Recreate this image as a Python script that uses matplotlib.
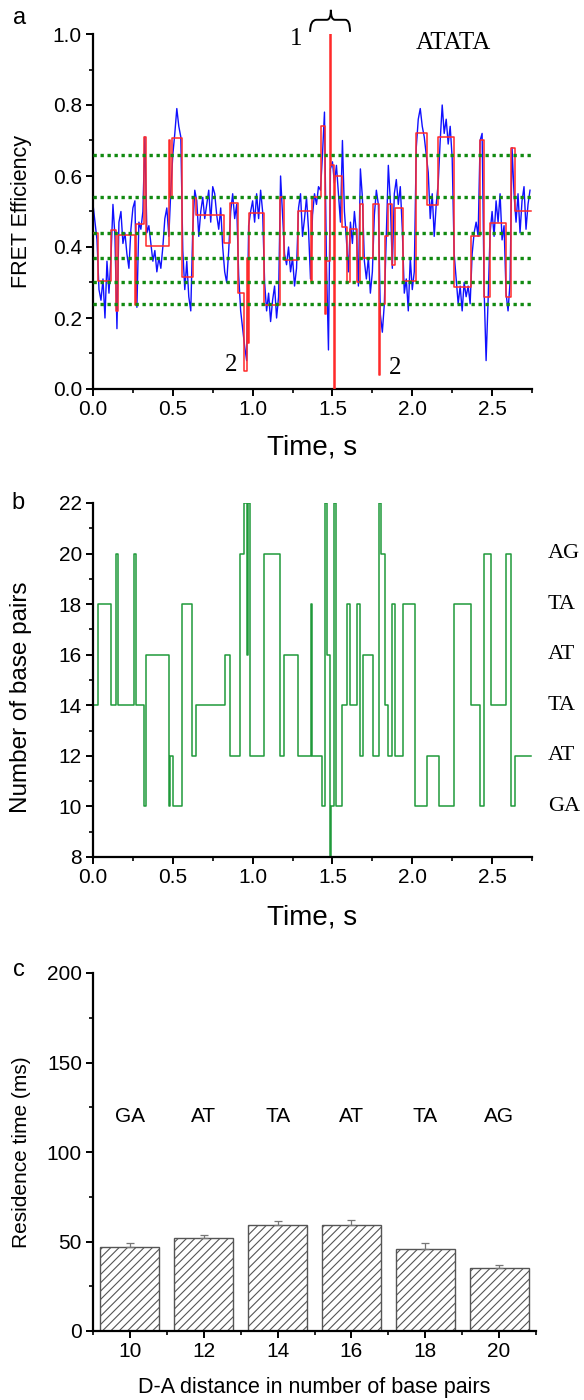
import numpy as np
import matplotlib
matplotlib.use("Agg")
import matplotlib.pyplot as plt
from matplotlib.path import Path
from matplotlib.patches import PathPatch
from matplotlib.ticker import MultipleLocator, FormatStrFormatter
from matplotlib.transforms import blended_transform_factory

plt.rcParams['font.family'] = ['Liberation Sans', 'DejaVu Sans']
plt.rcParams['hatch.linewidth'] = 0.8

# ---------------- Panel a data ----------------
frame_dt = 0.0125
fret_blue = [
    0.52, 0.47, 0.42, 0.28, 0.25, 0.31, 0.20, 0.36, 0.27, 0.37,
    0.52, 0.43, 0.17, 0.47, 0.50, 0.41, 0.44, 0.38, 0.34, 0.45,
    0.51, 0.53, 0.23, 0.47, 0.45, 0.50, 0.71, 0.44, 0.46, 0.41,
    0.36, 0.39, 0.33, 0.37, 0.34, 0.40, 0.48, 0.51, 0.43, 0.56,
    0.66, 0.72, 0.79, 0.74, 0.71, 0.39, 0.28, 0.36, 0.26, 0.22,
    0.45, 0.56, 0.53, 0.43, 0.50, 0.54, 0.48, 0.52, 0.56, 0.47,
    0.57, 0.55, 0.49, 0.45, 0.51, 0.40, 0.33, 0.30, 0.39, 0.50,
    0.55, 0.48, 0.52, 0.32, 0.22, 0.17, 0.12, 0.08, 0.46, 0.50,
    0.53, 0.47, 0.55, 0.48, 0.56, 0.50, 0.30, 0.22, 0.27, 0.19,
    0.25, 0.29, 0.20, 0.26, 0.60, 0.49, 0.38, 0.35, 0.40, 0.33,
    0.37, 0.29, 0.34, 0.51, 0.55, 0.43, 0.48, 0.54, 0.45, 0.31,
    0.49, 0.55, 0.52, 0.57, 0.56, 0.66, 0.78, 0.35, 0.11, 0.62,
    0.64, 0.58, 0.63, 0.55, 0.47, 0.70, 0.50, 0.42, 0.33, 0.47,
    0.41, 0.50, 0.44, 0.29, 0.62, 0.54, 0.36, 0.31, 0.37, 0.27,
    0.33, 0.49, 0.56, 0.52, 0.21, 0.16, 0.24, 0.44, 0.63, 0.53,
    0.34, 0.55, 0.59, 0.52, 0.57, 0.45, 0.27, 0.31, 0.22, 0.37,
    0.28, 0.33, 0.68, 0.76, 0.79, 0.74, 0.71, 0.66, 0.61, 0.48,
    0.55, 0.43, 0.52, 0.58, 0.70, 0.80, 0.72, 0.76, 0.69, 0.74,
    0.65, 0.38, 0.31, 0.24, 0.29, 0.22, 0.30, 0.26, 0.29, 0.24,
    0.38, 0.44, 0.47, 0.43, 0.70, 0.72, 0.28, 0.08, 0.25, 0.44,
    0.50, 0.43, 0.53, 0.47, 0.55, 0.42, 0.46, 0.27, 0.22, 0.30,
    0.68, 0.55, 0.47, 0.55, 0.44, 0.53, 0.57, 0.45, 0.52, 0.56,
]
blue_time = np.arange(len(fret_blue)) * frame_dt

red_time = [0.000, 0.034, 0.114, 0.147, 0.156, 0.263, 0.270, 0.320, 0.332, 0.477,
            0.485, 0.492, 0.555, 0.624, 0.646, 0.819, 0.857, 0.910, 0.945, 0.962,
            0.968, 0.975, 1.074, 1.170, 1.194, 1.285, 1.363, 1.372, 1.427, 1.452,
            1.462, 1.484, 1.490, 1.508, 1.516, 1.557, 1.592, 1.607, 1.652, 1.670,
            1.690, 1.757, 1.791, 1.800, 1.827, 1.850, 1.873, 1.890, 1.939, 2.023,
            2.090, 2.164, 2.259, 2.367, 2.426, 2.450, 2.490, 2.584, 2.620, 2.642, 2.745]
red_fret = [0.44, 0.305, 0.448, 0.22, 0.434, 0.237, 0.465, 0.71, 0.403, 0.70,
            0.54, 0.706, 0.316, 0.537, 0.49, 0.41, 0.525, 0.27, 0.05, 0.37,
            0.13, 0.495, 0.237, 0.54, 0.363, 0.50, 0.30, 0.54, 0.74, 0.21,
            0.36, 1.00, 0.63, 0.00, 0.60, 0.457, 0.30, 0.45, 0.30, 0.52,
            0.37, 0.52, 0.04, 0.24, 0.43, 0.52, 0.35, 0.509, 0.305, 0.72,
            0.518, 0.71, 0.288, 0.43, 0.70, 0.26, 0.468, 0.26, 0.68, 0.50, 0.50]

level_lines = [0.66, 0.54, 0.44, 0.37, 0.30, 0.24]

# ---------------- Panel b data ----------------
bp_time = [0.000, 0.034, 0.114, 0.147, 0.156, 0.258, 0.270, 0.320, 0.332, 0.477,
           0.481, 0.500, 0.555, 0.622, 0.646, 0.825, 0.858, 0.922, 0.945, 0.963,
           0.970, 0.985, 1.074, 1.170, 1.194, 1.285, 1.363, 1.371, 1.432, 1.452,
           1.464, 1.484, 1.494, 1.508, 1.520, 1.557, 1.592, 1.607, 1.652, 1.670,
           1.690, 1.757, 1.791, 1.801, 1.827, 1.850, 1.873, 1.890, 1.939, 2.017,
           2.095, 2.170, 2.263, 2.369, 2.424, 2.450, 2.494, 2.585, 2.620, 2.642, 2.745]
bp_num = [14, 18, 14, 20, 14, 20, 14, 10, 16, 10,
          12, 10, 18, 12, 14, 16, 12, 20, 22, 16,
          22, 12, 20, 12, 16, 12, 18, 12, 10, 22,
          16, 8, 10, 22, 10, 14, 18, 14, 18, 12,
          16, 12, 22, 20, 14, 12, 18, 12, 18, 10,
          12, 10, 18, 14, 10, 20, 14, 20, 10, 12, 12]
bp_levels = [20, 18, 16, 14, 12, 10]
bp_names = ['AG', 'TA', 'AT', 'TA', 'AT', 'GA']

# ---------------- Panel c data ----------------
distance_bp = [10, 12, 14, 16, 18, 20]
residence_ms = [47, 52, 59, 59, 46, 35]
residence_err = [2.3, 1.8, 2.3, 3.0, 3.0, 2.1]
pair_names = ['GA', 'AT', 'TA', 'AT', 'TA', 'AG']

W, H = 584, 1400
fig = plt.figure(figsize=(W / 100, H / 100), dpi=100)

def px_axes(left, top, right, bottom):
    return fig.add_axes([left / W, 1 - bottom / H, (right - left) / W, (bottom - top) / H])

TICK_FS = 15
serif = ['Liberation Serif', 'DejaVu Serif']

def style(ax):
    for s in ['top', 'right']:
        ax.spines[s].set_visible(False)
    for s in ['left', 'bottom']:
        ax.spines[s].set_linewidth(1.6)
    ax.tick_params(which='major', direction='out', length=5, width=1.4, labelsize=TICK_FS, pad=3)
    ax.tick_params(which='minor', direction='out', length=3, width=1.2)

# ---------- a ----------
axa = px_axes(93, 34, 532, 389)
style(axa)
axa.plot(blue_time, fret_blue, color='#1010ff', lw=1.0, zorder=2)
axa.step(red_time, red_fret, where='post', color='#ff2a2a', lw=1.1, zorder=3)
for lv in level_lines:
    axa.axhline(lv, color='#118a11', lw=2.4, ls=(0, (1, 1.1)), dash_capstyle='butt', zorder=4)
axa.set_xlim(0, 2.75)
axa.set_ylim(0, 1.0)
axa.xaxis.set_major_locator(MultipleLocator(0.5))
axa.xaxis.set_minor_locator(MultipleLocator(0.25))
axa.yaxis.set_major_locator(MultipleLocator(0.2))
axa.yaxis.set_minor_locator(MultipleLocator(0.1))
axa.xaxis.set_major_formatter(FormatStrFormatter('%.1f'))
axa.yaxis.set_major_formatter(FormatStrFormatter('%.1f'))
axa.set_xlabel('Time, s', fontsize=20)
axa.set_ylabel('FRET Efficiency', fontsize=15.5)
axa.xaxis.set_label_coords(0.5, -0.166)
axa.xaxis.label.set_va('center')
axa.yaxis.set_label_coords(-0.164, 0.5)
axa.yaxis.label.set_va('center')

axa.text(2.26, 0.975, 'ATATA', family=serif, fontsize=18, ha='center', va='center')
axa.text(1.27, 0.985, '1', family=serif, fontsize=18, ha='center', va='center', clip_on=False)
axa.text(0.867, 0.068, '2', family=serif, fontsize=18, ha='center', va='center')
axa.text(1.89, 0.06, '2', family=serif, fontsize=18, ha='center', va='center')
verts = [(1.36, 1.006), (1.36, 1.04), (1.40, 1.04), (1.465, 1.04),
         (1.49, 1.04), (1.49, 1.068), (1.49, 1.04), (1.515, 1.04),
         (1.58, 1.04), (1.61, 1.04), (1.61, 1.006)]
codes = [Path.MOVETO, Path.CURVE3, Path.CURVE3, Path.LINETO,
         Path.CURVE3, Path.CURVE3, Path.CURVE3, Path.CURVE3,
         Path.LINETO, Path.CURVE3, Path.CURVE3]
axa.add_patch(PathPatch(Path(verts, codes), fc='none', ec='black', lw=1.4,
                        transform=axa.transData, clip_on=False))

# ---------- b ----------
axb = px_axes(93, 503, 532, 857)
style(axb)
axb.step(bp_time, bp_num, where='post', color='#1f9a3a', lw=1.1)
axb.set_xlim(0, 2.75)
axb.set_ylim(8, 22)
axb.xaxis.set_major_locator(MultipleLocator(0.5))
axb.xaxis.set_minor_locator(MultipleLocator(0.25))
axb.yaxis.set_major_locator(MultipleLocator(2))
axb.yaxis.set_minor_locator(MultipleLocator(1))
axb.xaxis.set_major_formatter(FormatStrFormatter('%.1f'))
axb.set_xlabel('Time, s', fontsize=20)
axb.set_ylabel('Number of base pairs', fontsize=17.5)
axb.xaxis.set_label_coords(0.5, -0.172)
axb.xaxis.label.set_va('center')
axb.yaxis.set_label_coords(-0.163, 0.45)
axb.yaxis.label.set_va('center')
trans_b = blended_transform_factory(axb.transAxes, axb.transData)
for lv, nm in zip(bp_levels, bp_names):
    axb.text(1.036, lv, nm, family=serif, fontsize=16, ha='left', va='center',
             transform=trans_b, clip_on=False)

# ---------- c ----------
axc = px_axes(93, 973, 536, 1331)
style(axc)
axc.bar(distance_bp, residence_ms, width=1.6, facecolor='white', edgecolor='#555555',
        hatch='////', linewidth=1.0, zorder=2)
axc.errorbar(distance_bp, residence_ms, yerr=[[0] * len(residence_err), residence_err],
             fmt='none', ecolor='#777777', elinewidth=0.9, capsize=3, capthick=0.9, zorder=3)
for x, nm in zip(distance_bp, pair_names):
    axc.text(x, 120, nm, fontsize=15, ha='center', va='center')
axc.set_xlim(9, 21)
axc.set_ylim(0, 200)
axc.xaxis.set_major_locator(MultipleLocator(2))
axc.xaxis.set_minor_locator(MultipleLocator(1))
axc.yaxis.set_major_locator(MultipleLocator(50))
axc.yaxis.set_minor_locator(MultipleLocator(25))
axc.set_xlabel('D-A distance in number of base pairs', fontsize=15.5)
axc.set_ylabel('Residence time (ms)', fontsize=15)
axc.xaxis.set_label_coords(0.5, -0.159)
axc.xaxis.label.set_va('center')
axc.yaxis.set_label_coords(-0.1625, 0.5)
axc.yaxis.label.set_va('center')

# panel letters
fig.text(20 / W, 1 - 18 / H, 'a', fontsize=17, ha='center', va='center')
fig.text(18 / W, 1 - 503 / H, 'b', fontsize=17, ha='center', va='center')
fig.text(19 / W, 1 - 970 / H, 'c', fontsize=17, ha='center', va='center')

fig.savefig('out.png', dpi=100, facecolor='white')
